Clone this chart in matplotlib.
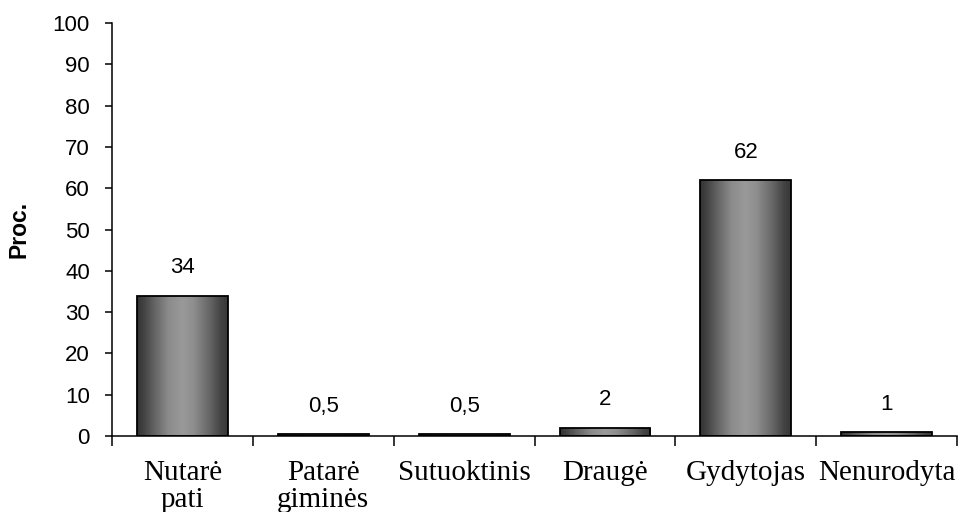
import numpy as np
import matplotlib
matplotlib.use("Agg")
import matplotlib.pyplot as plt

categories = ["Nutarė\npati", "Patarė\ngiminės", "Sutuoktinis", "Draugė", "Gydytojas", "Nenurodyta"]
values = [34, 0.5, 0.5, 2, 62, 1]
value_labels = ["34", "0,5", "0,5", "2", "62", "1"]
yticks = list(range(0, 101, 10))

fig = plt.figure(figsize=(9.59, 5.12), dpi=100)
ax = fig.add_axes([0.1168, 0.1484, 0.8812, 0.8066])

x = np.arange(len(categories)) + 0.5
bars = ax.bar(x, values, width=0.645, facecolor="none", edgecolor="black",
              linewidth=1.3, zorder=3)

# horizontal cylinder-like gradient
t = np.linspace(0, 1, 256)
prof = np.interp(t, [0, 0.08, 0.2, 0.35, 0.5, 0.62, 0.8, 0.92, 1.0],
                 [0.2, 0.27, 0.4, 0.55, 0.6, 0.56, 0.4, 0.27, 0.22])
grad = prof[np.newaxis, :]
for b in bars:
    x0, y0 = b.get_x(), b.get_y()
    w, h = b.get_width(), b.get_height()
    im = ax.imshow(grad, extent=[x0, x0 + w, y0, y0 + h], aspect="auto",
                   cmap="gray", vmin=0, vmax=1, interpolation="bilinear", zorder=2)
    im.set_clip_path(b)

for xi, v, lab in zip(x, values, value_labels):
    ax.annotate(lab, (xi, v), xytext=(0, 20), textcoords="offset points",
                ha="center", va="center", fontsize=16, family="Liberation Sans")

ax.set_xlim(0, 6)
ax.set_ylim(0, 100)
ax.set_yticks(yticks)
ax.set_yticklabels([str(v) for v in yticks], fontsize=16, family="Liberation Sans")
ax.set_xticks(np.arange(0, 7))
ax.set_xticklabels([])
ax.set_xticks(x, minor=True)
ax.set_xticklabels(categories, minor=True, fontsize=21, family="Liberation Serif",
                   linespacing=1.05)
ax.tick_params(axis="x", which="minor", length=0, pad=17)
ax.tick_params(axis="x", which="major", direction="out", length=7, width=1.1)
ax.tick_params(axis="y", direction="out", length=5, width=1.1, pad=11)

for s in ["top", "right"]:
    ax.spines[s].set_visible(False)
for s in ["left", "bottom"]:
    ax.spines[s].set_linewidth(1.1)

ax.set_ylabel("Proc.", fontsize=16.5, fontweight="bold", family="Liberation Sans")
ax.yaxis.set_label_coords(-0.097, 0.5)

fig.savefig("out.png", dpi=100)
